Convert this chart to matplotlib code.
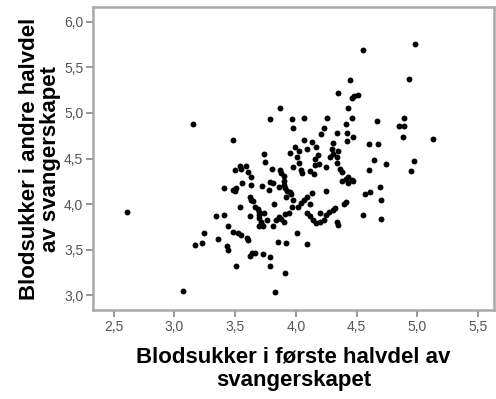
import matplotlib
matplotlib.use("Agg")
import matplotlib.pyplot as plt
from matplotlib.ticker import FuncFormatter

# blood sugar, first half (x) vs second half (y) of pregnancy
first_half = [
    2.61, 3.07, 3.15, 4.98, 4.55, 4.93, 5.13, 3.83, 3.91, 3.51,
    4.45, 4.35, 4.46, 4.48, 4.51, 4.43, 4.46, 4.47, 4.42, 4.41,
    4.34, 4.42, 4.67, 4.60, 4.68, 4.64, 4.74, 4.60, 4.89, 4.85,
    4.89, 4.88, 4.97, 4.95, 4.57, 4.61, 4.69, 4.70, 4.55, 4.70,
    4.26, 4.23, 4.21, 4.07, 3.97, 3.98, 3.87, 3.79, 3.48, 4.07,
    4.13, 4.09, 4.17, 4.31, 4.30, 4.31, 4.28, 3.99, 3.95, 3.74,
    3.75, 3.80, 3.87, 3.88, 3.90, 3.98, 4.03, 4.04, 4.05, 4.12,
    4.16, 4.15, 4.16, 4.18, 4.25, 4.34, 4.36, 4.38, 4.41, 4.43,
    4.46, 4.34, 4.35, 4.38, 4.43, 4.47, 3.50, 3.54, 3.55, 3.59,
    3.61, 3.63, 3.56, 3.63, 3.41, 3.48, 3.50, 3.51, 3.41, 3.34,
    3.44, 3.48, 3.52, 3.55, 3.54, 3.43, 3.44, 3.36, 3.24, 3.23,
    3.17, 3.60, 3.61, 3.62, 3.63, 3.65, 3.62, 3.66, 3.69, 3.70,
    3.70, 3.70, 3.71, 3.72, 3.70, 3.74, 3.76, 3.73, 3.72, 3.79,
    3.78, 3.81, 3.86, 3.82, 3.90, 3.90, 3.91, 3.93, 3.95, 3.92,
    3.96, 3.98, 3.97, 4.02, 4.04, 4.07, 4.09, 4.13, 4.12, 3.86,
    3.88, 3.91, 3.94, 3.84, 3.90, 3.81, 3.85, 3.92, 4.01, 4.09,
    3.79, 3.79, 3.73, 3.62, 3.64, 3.66, 4.09, 4.12, 4.14, 4.17,
    4.20, 4.23, 4.25, 4.20, 4.27, 4.31, 4.32, 4.34, 4.35, 4.40,
    4.41, 4.25, 4.19, 4.01, 4.03,
]
second_half = [
    3.92, 3.05, 4.88, 5.76, 5.69, 5.37, 4.71, 3.04, 3.25, 3.32,
    5.36, 5.22, 5.16, 5.19, 5.20, 5.06, 4.94, 4.74, 4.69, 4.88,
    4.78, 4.78, 4.91, 4.66, 4.66, 4.49, 4.44, 4.38, 4.94, 4.86,
    4.86, 4.74, 4.47, 4.36, 4.11, 4.13, 4.19, 4.05, 3.88, 3.84,
    4.94, 4.84, 4.77, 4.94, 4.93, 4.84, 5.05, 4.93, 4.70, 4.70,
    4.68, 4.60, 4.63, 4.67, 4.61, 4.55, 4.52, 4.63, 4.56, 4.55,
    4.46, 4.39, 4.38, 4.34, 4.31, 4.41, 4.45, 4.38, 4.34, 4.36,
    4.43, 4.33, 4.50, 4.54, 4.41, 4.45, 4.39, 4.35, 4.28, 4.30,
    4.27, 4.52, 4.58, 4.25, 4.23, 4.25, 4.38, 4.42, 4.39, 4.42,
    4.35, 4.30, 4.23, 4.21, 4.18, 4.16, 4.14, 4.18, 3.88, 3.87,
    3.76, 3.70, 3.68, 3.66, 3.97, 3.54, 3.50, 3.62, 3.68, 3.58,
    3.55, 3.63, 3.61, 4.08, 4.05, 4.03, 3.87, 3.97, 3.95, 3.92,
    3.88, 3.85, 3.81, 3.77, 3.76, 3.90, 3.83, 3.76, 4.20, 4.24,
    4.16, 4.23, 4.19, 4.00, 4.25, 4.21, 4.18, 4.15, 4.13, 4.08,
    4.11, 4.05, 3.97, 3.97, 4.01, 4.05, 4.08, 4.12, 4.00, 3.86,
    3.84, 3.89, 3.90, 3.83, 3.81, 3.76, 3.59, 3.57, 3.68, 3.56,
    3.42, 3.32, 3.45, 3.43, 3.46, 3.47, 3.90, 3.87, 3.83, 3.79,
    3.80, 3.83, 3.88, 3.90, 3.92, 3.94, 3.96, 3.81, 3.77, 4.00,
    4.02, 4.14, 4.44, 4.52, 4.58,
]
x_ticks = [2.5, 3.0, 3.5, 4.0, 4.5, 5.0, 5.5]
y_ticks = [3.0, 3.5, 4.0, 4.5, 5.0, 5.5, 6.0]

plt.rcParams['font.family'] = ['Liberation Sans', 'DejaVu Sans']

fig = plt.figure(figsize=(4.96, 3.99), dpi=100)
ax = fig.add_axes([0.1875, 0.223, 0.808, 0.759])
ax.scatter(first_half, second_half, s=18, c='black', linewidths=0)

ax.set_xlim(2.33, 5.63)
ax.set_ylim(2.84, 6.16)
ax.set_xticks(x_ticks)
ax.set_yticks(y_ticks)
comma = FuncFormatter(lambda v, p: f"{v:.1f}".replace('.', ','))
ax.xaxis.set_major_formatter(comma)
ax.yaxis.set_major_formatter(comma)
ax.tick_params(colors='#888888', labelcolor='#555555', labelsize=10, length=5, width=1.2, pad=2)

for s in ax.spines.values():
    s.set_color('#a8a8a8')
    s.set_linewidth(1.8)

ax.set_xlabel("Blodsukker i første halvdel av\nsvangerskapet", fontsize=16,
              fontweight='bold', linespacing=1.2, labelpad=9)
ax.set_ylabel("Blodsukker i andre halvdel\nav svangerskapet", fontsize=16,
              fontweight='bold', linespacing=1.0, labelpad=2)

fig.savefig("out.png", dpi=100)
